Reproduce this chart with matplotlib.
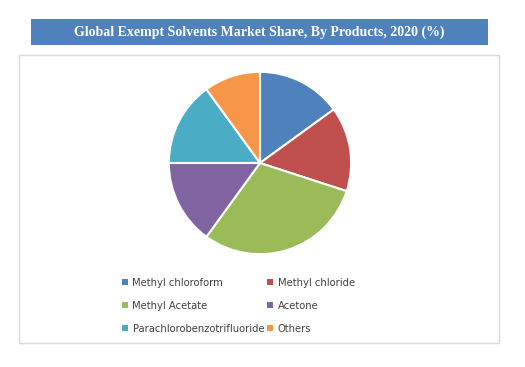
import matplotlib.pyplot as plt
from matplotlib.patches import Rectangle, Patch

# Data
products = ['Methyl chloroform', 'Methyl chloride', 'Methyl Acetate',
            'Acetone', 'Parachlorobenzotrifluoride', 'Others']
shares = [15, 15, 30, 15, 15, 10]
colors = ['#4F81BD', '#C0504D', '#9BBB59', '#8064A2', '#4BACC6', '#F79646']
title = 'Global Exempt Solvents Market Share, By Products, 2020 (%)'

W, H = 525, 367
fig = plt.figure(figsize=(W / 100, H / 100), dpi=100)

def box(x0, y0, x1, y1):
    # pixel box (top-left origin) -> figure fractions
    return [x0 / W, 1 - y1 / H, (x1 - x0) / W, (y1 - y0) / H]

# chart border
l, b, w, h = box(19, 55, 499, 343)
fig.patches.append(Rectangle((l, b), w, h, transform=fig.transFigure,
                             fill=False, edgecolor='#D9D9D9', linewidth=1))

# title banner
l, b, w, h = box(31, 19, 488, 45)
fig.patches.append(Rectangle((l, b), w, h, transform=fig.transFigure,
                             facecolor='#4F81BD', edgecolor='none'))
fig.text(l + w / 2, b + h / 2, title, ha='center', va='center', color='white',
         fontsize=10, fontweight='bold', family='Liberation Serif')

# pie
ax = fig.add_axes(box(167, 70, 353, 256))
ax.pie(shares, colors=colors, startangle=90, counterclock=False, radius=1,
       wedgeprops=dict(edgecolor='white', linewidth=1.5))
ax.set_xlim(-1.02, 1.02)
ax.set_ylim(-1.02, 1.02)
ax.set_aspect('equal')
ax.axis('off')

# legend, filled row by row
order = [0, 2, 4, 1, 3, 5]
handles = [Patch(facecolor=colors[i], edgecolor='none') for i in order]
labels = [products[i] for i in order]
fig.legend(handles, labels, ncol=2, loc='upper left',
           bbox_to_anchor=(113 / W, 1 - 269 / H), frameon=False,
           fontsize=7.2, labelcolor='#404040', handlelength=0.55,
           handleheight=0.55, handletextpad=0.5, columnspacing=0.3,
           labelspacing=1.3)

fig.savefig('out.png', dpi=100)
